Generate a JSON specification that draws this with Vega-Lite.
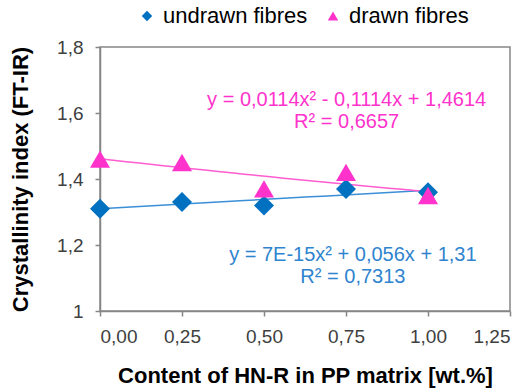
{
  "$schema": "https://vega.github.io/schema/vega-lite/v6.json",
  "width": 410,
  "height": 264,
  "autosize": {"type": "none"},
  "padding": {"left": 100, "top": 47, "right": 20, "bottom": 81},
  "config": {
    "font": "Liberation Sans",
    "view": {"stroke": "#868686", "strokeWidth": 1.5},
    "axis": {
      "grid": false,
      "domainColor": "#868686",
      "domainWidth": 1.5,
      "tickColor": "#868686",
      "tickWidth": 1.5,
      "tickSize": 5,
      "labelFont": "Liberation Sans",
      "labelFontSize": 19,
      "labelColor": "#404040",
      "titleFont": "Liberation Sans",
      "titleFontSize": 22,
      "titleFontWeight": "bold",
      "titleColor": "#000000"
    }
  },
  "datasets": {
    "pts": [
      {"content": 0.0, "ci": 1.31, "series": "undrawn fibres"},
      {"content": 0.25, "ci": 1.33, "series": "undrawn fibres"},
      {"content": 0.5, "ci": 1.32, "series": "undrawn fibres"},
      {"content": 0.75, "ci": 1.37, "series": "undrawn fibres"},
      {"content": 1.0, "ci": 1.36, "series": "undrawn fibres"},
      {"content": 0.0, "ci": 1.46, "series": "drawn fibres"},
      {"content": 0.25, "ci": 1.45, "series": "drawn fibres"},
      {"content": 0.5, "ci": 1.37, "series": "drawn fibres"},
      {"content": 0.75, "ci": 1.42, "series": "drawn fibres"},
      {"content": 1.0, "ci": 1.35, "series": "drawn fibres"}
    ],
    "notes": [
      {"content": 0.752, "ci": 1.64, "label": "y = 0,0114x² - 0,1114x + 1,4614", "series": "drawn fibres"},
      {"content": 0.752, "ci": 1.573, "label": "R² = 0,6657", "series": "drawn fibres"},
      {"content": 0.771, "ci": 1.17, "label": "y = 7E-15x² + 0,056x + 1,31", "series": "undrawn fibres"},
      {"content": 0.771, "ci": 1.103, "label": "R² = 0,7313", "series": "undrawn fibres"}
    ]
  },
  "layer": [
    {
      "data": {"name": "pts"},
      "transform": [
        {"filter": "datum.series == 'undrawn fibres'"},
        {"regression": "ci", "on": "content", "method": "poly", "order": 2, "extent": [0, 1]}
      ],
      "mark": {"type": "line", "color": "#3A8FD6", "strokeWidth": 1.5},
      "encoding": {
        "x": {"field": "content", "type": "quantitative"},
        "y": {"field": "ci", "type": "quantitative"}
      }
    },
    {
      "data": {"name": "pts"},
      "transform": [
        {"filter": "datum.series == 'drawn fibres'"},
        {"regression": "ci", "on": "content", "method": "poly", "order": 2, "extent": [0, 1]}
      ],
      "mark": {"type": "line", "color": "#FF5CCF", "strokeWidth": 1.5},
      "encoding": {
        "x": {"field": "content", "type": "quantitative"},
        "y": {"field": "ci", "type": "quantitative"}
      }
    },
    {
      "data": {"name": "pts"},
      "mark": {"type": "point", "filled": true, "opacity": 1, "size": 400},
      "encoding": {
        "x": {
          "field": "content", "type": "quantitative",
          "scale": {"domain": [0, 1.25], "nice": false},
          "axis": {
            "values": [0, 0.25, 0.5, 0.75, 1, 1.25],
            "labelExpr": "replace(format(datum.value, '.2f'), '.', ',')",
            "labelPadding": 11,
            "title": "Content of HN-R in PP matrix [wt.%]",
            "titlePadding": 19
          }
        },
        "y": {
          "field": "ci", "type": "quantitative",
          "scale": {"domain": [1, 1.8], "nice": false, "zero": false},
          "axis": {
            "values": [1, 1.2, 1.4, 1.6, 1.8],
            "labelExpr": "datum.value == 1 ? '1' : replace(format(datum.value, '.1f'), '.', ',')",
            "labelPadding": 12,
            "title": "Crystallinity index (FT-IR)",
            "titlePadding": 24
          }
        },
        "color": {
          "field": "series", "type": "nominal",
          "scale": {"domain": ["undrawn fibres", "drawn fibres"], "range": ["#0070C0", "#FF33CC"]},
          "legend": {
            "orient": "none",
            "legendX": 36,
            "legendY": -42,
            "direction": "horizontal",
            "title": null,
            "labelFontSize": 22,
            "labelColor": "#000000",
            "labelFont": "Liberation Sans",
            "symbolSize": 110,
            "symbolStrokeWidth": 0,
            "labelOffset": 5,
            "columnPadding": 14
          }
        },
        "shape": {
          "field": "series", "type": "nominal",
          "scale": {"domain": ["undrawn fibres", "drawn fibres"], "range": ["diamond", "triangle-up"]},
          "legend": null
        }
      }
    },
    {
      "data": {"name": "notes"},
      "transform": [{"filter": "datum.series == 'drawn fibres'"}],
      "mark": {"type": "text", "fontSize": 20, "color": "#FF33CC", "font": "Liberation Sans"},
      "encoding": {
        "x": {"field": "content", "type": "quantitative"},
        "y": {"field": "ci", "type": "quantitative"},
        "text": {"field": "label"}
      }
    },
    {
      "data": {"name": "notes"},
      "transform": [{"filter": "datum.series == 'undrawn fibres'"}],
      "mark": {"type": "text", "fontSize": 20, "color": "#2F84CF", "font": "Liberation Sans"},
      "encoding": {
        "x": {"field": "content", "type": "quantitative"},
        "y": {"field": "ci", "type": "quantitative"},
        "text": {"field": "label"}
      }
    }
  ]
}
